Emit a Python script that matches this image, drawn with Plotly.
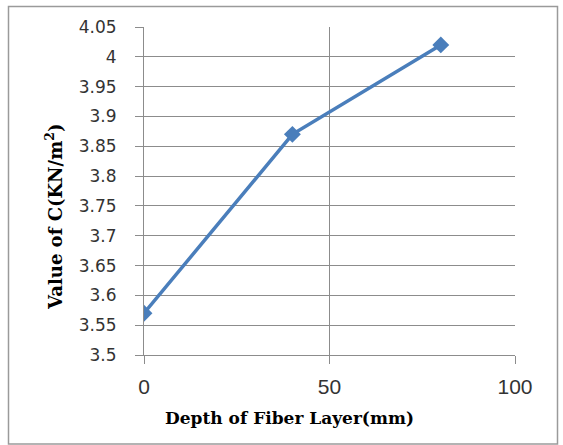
import plotly.graph_objects as go

depth = [0, 40, 80]
c_value = [3.57, 3.87, 4.02]
y_ticks = [3.5, 3.55, 3.6, 3.65, 3.7, 3.75, 3.8, 3.85, 3.9, 3.95, 4.0, 4.05]
y_tick_text = ["3.5", "3.55", "3.6", "3.65", "3.7", "3.75", "3.8", "3.85", "3.9", "3.95", "4", "4.05"]
x_ticks = [0, 50, 100]

L, R, T, B = 144, 515, 27, 355
W, H = 563, 445
pw, ph = R - L, B - T

def px(x):
    return (x - L) / pw

def py(y):
    return (B - y) / ph

fig = go.Figure()
fig.add_trace(go.Scatter(
    x=depth, y=c_value, mode="lines+markers",
    line=dict(color="#4A7EBB", width=3.5),
    marker=dict(symbol="diamond", size=13, color="#4A7EBB"),
    showlegend=False,
))

axis_common = dict(
    showgrid=True, gridcolor="#8c8c8c", gridwidth=1,
    showline=True, linecolor="#8c8c8c", linewidth=1,
    ticks="outside", tickcolor="#8c8c8c", ticklen=8,
    zeroline=False, mirror=False,
)

fig.update_xaxes(range=[0, 100], tickvals=x_ticks, ticklabelstandoff=5,
                 tickfont=dict(family="Liberation Sans", size=21, color="#333"),
                 **axis_common)
fig.update_yaxes(range=[3.5, 4.05], tickvals=y_ticks, ticktext=y_tick_text, ticklabelstandoff=15,
                 tickfont=dict(family="DejaVu Sans", size=17, color="#333"),
                 **axis_common)

fig.add_annotation(
    x=px(289), y=py(430), xref="paper", yref="paper",
    text="Depth of Fiber Layer(mm)", showarrow=False,
    font=dict(family="DejaVu Serif", size=17, color="black", weight="bold"),
)
fig.add_annotation(
    x=px(40), y=py(217), xref="paper", yref="paper",
    text="Value of C(KN/m<sup>2</sup>)", showarrow=False, textangle=-90,
    font=dict(family="DejaVu Serif", size=18, color="black", weight="bold"),
)

fig.add_shape(
    type="rect", xref="paper", yref="paper",
    x0=px(8.5), x1=px(557.5), y0=py(444), y1=py(6.5),
    line=dict(color="#9a9a9a", width=1.5), fillcolor="rgba(0,0,0,0)", layer="below",
)

fig.update_layout(
    width=W, height=H,
    margin=dict(l=L, r=W - R, t=T, b=H - B),
    paper_bgcolor="white", plot_bgcolor="white",
)

fig.write_html("out.html")
